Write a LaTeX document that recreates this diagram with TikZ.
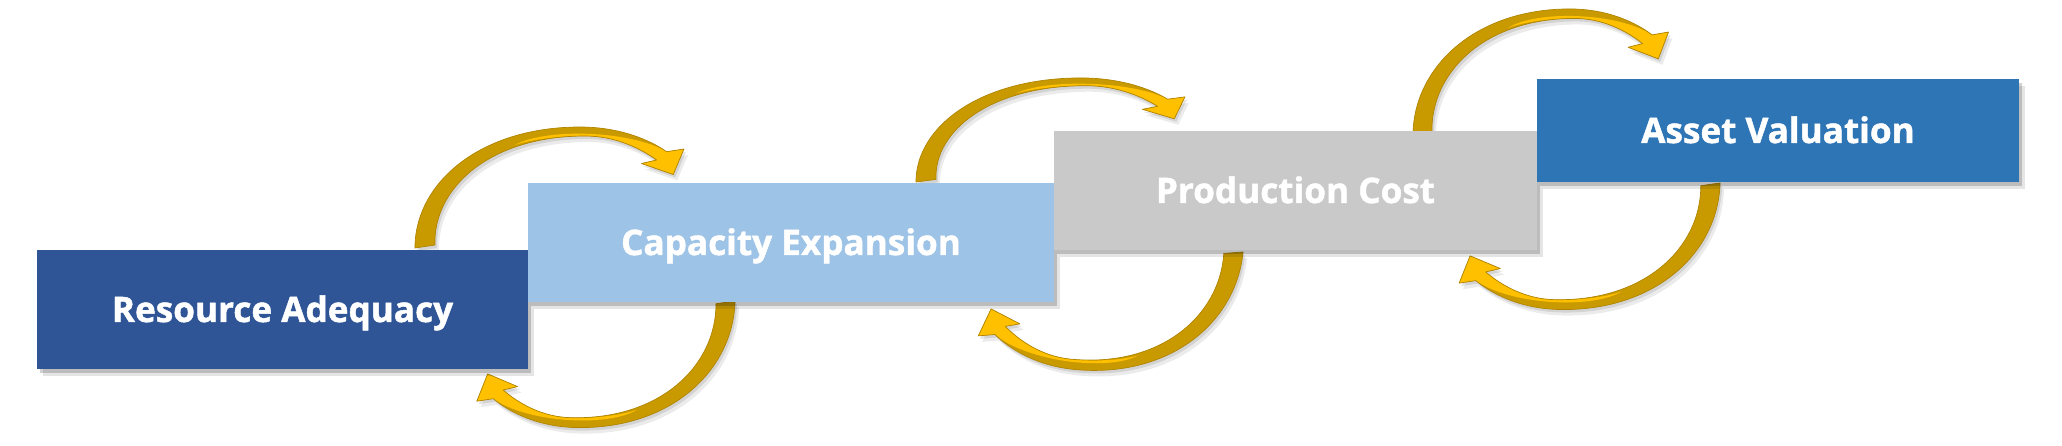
\documentclass[tikz,border=0pt]{standalone}
\usepackage{fontspec}
\setmainfont{Open Sans}[BoldFeatures={FakeBold=1.3}]
\usetikzlibrary{shadows}
\definecolor{raC}{HTML}{2F5597}
\definecolor{ceC}{HTML}{9DC3E6}
\definecolor{pcC}{HTML}{C9C9C9}
\definecolor{avC}{HTML}{2E75B6}
\definecolor{goldDark}{HTML}{C99A00}
\definecolor{goldBright}{HTML}{FFC000}
\definecolor{goldEdge}{HTML}{B08400}
\pgfdeclarelayer{background}
\pgfsetlayers{background,main}
\newcommand{\arrowbody}[1]{\path[#1] (0,0) .. controls (0,-65) and (65,-121) .. (165,-121) .. controls (205,-121) and (235,-108) .. (251.7,-96.3) -- (269,-99) -- (258.3,-73.5) -- (226.5,-84.5) -- (241.7,-88) .. controls (225,-100) and (200,-112) .. (170,-112) .. controls (75,-112) and (18,-60) .. (20,-3) -- cycle;}
\newcommand{\arrowlight}[1]{\path[#1] (100,-103) .. controls (130,-120) and (215,-118) .. (251.7,-96.3) -- (269,-99) -- (258.3,-73.5) -- (226.5,-84.5) -- (241.7,-88) .. controls (225,-100) and (200,-112) .. (170,-112) .. controls (140,-112) and (115,-108) .. (100,-103) -- cycle;}
\newcommand{\goldarrow}[3]{%
  \begin{scope}[shift={#1},shift={#2},shift={(4,6)},#3]\arrowbody{fill=black,opacity=0.08}\end{scope}
  \begin{scope}[shift={#1},shift={#2},shift={(2,3)},#3]\arrowbody{fill=black,opacity=0.10}\end{scope}
  \begin{scope}[shift={#1},shift={#2},#3]
    \arrowbody{fill=goldDark}
    \arrowlight{fill=goldBright}
    \arrowbody{draw=goldEdge,line width=0.4pt,line join=round}
  \end{scope}}
\tikzset{
  box/.style={rectangle, inner sep=0pt, outer sep=0pt, text=white,
    font=\bfseries\fontsize{20pt}{24pt}\selectfont,
    text height=0.5cm, text depth=0pt, minimum height=2.38cm,
    drop shadow={shadow xshift=0.06cm, shadow yshift=-0.08cm, opacity=0.18, fill=black},
    drop shadow={shadow xshift=0.12cm, shadow yshift=-0.14cm, opacity=0.10, fill=black}},
}
\begin{document}
\begin{tikzpicture}[x=0.02cm, y=-0.02cm]
\useasboundingbox (0,0) rectangle (2062,446);
\node[box, fill=raC, minimum width=9.82cm] (ra) at (282.5,309.5) {Resource Adequacy};
\node[box, fill=ceC, minimum width=10.52cm] (ce) at (791,242.5) {Capacity Expansion};
\node[box, fill=pcC, minimum width=9.66cm] (pc) at (1295.5,190.5) {Production Cost};
\node[box, fill=avC, minimum width=9.64cm, minimum height=2.06cm] (av) at (1778,130.5) {Asset Valuation};
\begin{pgfonlayer}{background}
\goldarrow{(ra.north east)}{(-113,-2)}{}
\goldarrow{(ce.south west)}{(207,-1)}{rotate=-1.5, xscale=-0.95, yscale=-1.08}
\goldarrow{(ce.north east)}{(-138,-1)}{yscale=0.86}
\goldarrow{(pc.south west)}{(189,2)}{rotate=-5.5, xscale=-0.95, yscale=-1.1}
\goldarrow{(pc.north east)}{(-124,5)}{xscale=0.95, yscale=1.05}
\goldarrow{(av.south west)}{(183,1)}{rotate=-1.5, xscale=-0.96, yscale=-1.08}
\end{pgfonlayer}
\end{tikzpicture}
\end{document}
